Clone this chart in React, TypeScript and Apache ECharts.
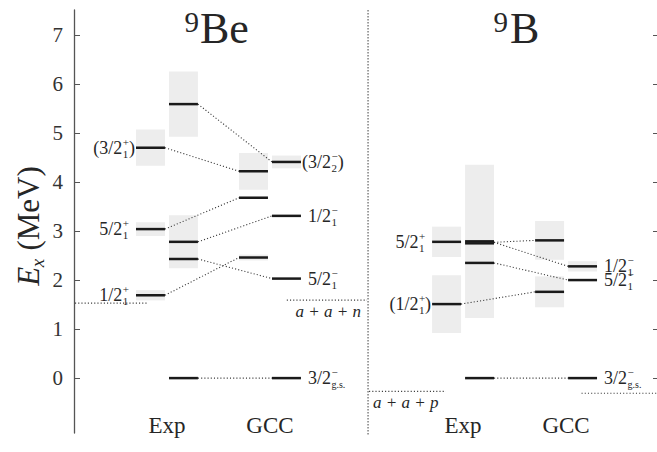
import React, { useEffect, useRef } from "react";
import * as echarts from "echarts";

// ---------------- data ----------------
const nuclei = ["Be", "B"];
const massNumber = "9";
const columnLabels = ["Exp", "GCC"];
const yTickValues = [0, 1, 2, 3, 4, 5, 6, 7];
const yRange = [-1.12, 7.51];

// [column, excitation energy (MeV), width Γ (MeV)]
type Level = [string, number, number];
const be9Levels: Level[] = [
  ["Exp1", 4.7, 0.74],
  ["Exp1", 3.04, 0.28],
  ["Exp1", 1.69, 0.21],
  ["Exp2", 5.59, 1.33],
  ["Exp2", 2.78, 1.08],
  ["Exp2", 2.43, 0],
  ["Exp2", 0, 0],
  ["GCC1", 4.22, 0.75],
  ["GCC1", 3.68, 0],
  ["GCC1", 2.46, 0.12],
  ["GCC2", 4.41, 0.26],
  ["GCC2", 3.31, 0],
  ["GCC2", 2.03, 0],
  ["GCC2", 0, 0],
];
const b9Levels: Level[] = [
  ["Exp1", 2.78, 0.62],
  ["Exp1", 1.51, 1.18],
  ["Exp2", 2.79, 3.13],
  ["Exp2", 2.75, 0],
  ["Exp2", 2.35, 0],
  ["Exp2", 0, 0],
  ["GCC1", 2.81, 0.79],
  ["GCC1", 1.76, 0.63],
  ["GCC2", 2.28, 0.21],
  ["GCC2", 2.0, 0],
  ["GCC2", 0, 0],
];

// [from column, E, to column, E]
type Link = [string, number, string, number];
const be9Links: Link[] = [
  ["Exp1", 4.7, "GCC1", 4.22],
  ["Exp2", 5.59, "GCC2", 4.41],
  ["Exp1", 3.04, "GCC1", 3.68],
  ["Exp2", 2.78, "GCC2", 3.31],
  ["Exp2", 2.43, "GCC2", 2.03],
  ["Exp1", 1.69, "GCC1", 2.46],
  ["Exp2", 0, "GCC2", 0],
];
const b9Links: Link[] = [
  ["Exp2", 2.77, "GCC1", 2.81],
  ["Exp2", 2.77, "GCC2", 2.28],
  ["Exp2", 2.35, "GCC2", 2.0],
  ["Exp1", 1.51, "GCC1", 1.76],
  ["Exp2", 0, "GCC2", 0],
];

type Label = { col: string; side: "left" | "right"; e: number; main: string; sup: string; sub: string; close?: string };
const be9Labels: Label[] = [
  { col: "Exp1", side: "left", e: 4.7, main: "(3/2", sup: "+", sub: "1", close: ")" },
  { col: "Exp1", side: "left", e: 3.04, main: "5/2", sup: "+", sub: "1" },
  { col: "Exp1", side: "left", e: 1.69, main: "1/2", sup: "+", sub: "1" },
  { col: "GCC2", side: "right", e: 4.41, main: "(3/2", sup: "\u2212", sub: "2", close: ")" },
  { col: "GCC2", side: "right", e: 3.31, main: "1/2", sup: "\u2212", sub: "1" },
  { col: "GCC2", side: "right", e: 2.03, main: "5/2", sup: "\u2212", sub: "1" },
  { col: "GCC2", side: "right", e: 0, main: "3/2", sup: "\u2212", sub: "g.s." },
];
const b9Labels: Label[] = [
  { col: "Exp1", side: "left", e: 2.78, main: "5/2", sup: "+", sub: "1" },
  { col: "Exp1", side: "left", e: 1.51, main: "(1/2", sup: "+", sub: "1", close: ")" },
  { col: "GCC2", side: "right", e: 2.28, main: "1/2", sup: "\u2212", sub: "1" },
  { col: "GCC2", side: "right", e: 2.0, main: "5/2", sup: "\u2212", sub: "1" },
  { col: "GCC2", side: "right", e: 0, main: "3/2", sup: "\u2212", sub: "g.s." },
];

// thresholds: [energy of left segment, energy of right segment]
const be9Threshold = [1.53, 1.59];
const b9Threshold = [-0.27, -0.31];
const thresholdNames = ["a + a + n", "a + a + p"];

// ---------------- layout ----------------
const X_MAX = 17.15;
const HALF = 0.426;
const colPos: Record<string, Record<string, number>> = {
  Be: { Exp1: 2.25, Exp2: 3.22, GCC1: 5.28, GCC2: 6.25 },
  B: { Exp1: 10.96, Exp2: 11.93, GCC1: 13.99, GCC2: 14.96 },
};
const dividerX = 8.65;
const thresholdSpans: Record<string, number[][]> = {
  Be: [[0.03, 2.18], [6.26, 8.62]],
  B: [[8.68, 10.94], [14.93, X_MAX]],
};

const SERIF = "'Liberation Serif', 'DejaVu Serif', serif";
const INK = "#1a1a1a";
const TXT = "#262626";
const MAIN = 18;
const SCRIPT = 11;

let measureCtx: CanvasRenderingContext2D | null = null;
function textWidth(t: string, size: number, italic = false) {
  if (!measureCtx) measureCtx = document.createElement("canvas").getContext("2d");
  if (!measureCtx) return t.length * size * 0.5;
  measureCtx.font = `${italic ? "italic " : ""}${size}px ${SERIF}`;
  return measureCtx.measureText(t).width;
}
function txt(text: string, x: number, y: number, size: number, align = "left", italic = false, fill = TXT) {
  return {
    type: "text",
    style: {
      text, x, y,
      font: `${italic ? "italic " : ""}${size}px ${SERIF}`,
      fill,
      textAlign: align, align,
      textVerticalAlign: "middle", verticalAlign: "middle",
    },
  };
}

const levelSets: Record<string, Level[]> = { Be: be9Levels, B: b9Levels };
const linkSets: Record<string, Link[]> = { Be: be9Links, B: b9Links };
const labelSets: Record<string, Label[]> = { Be: be9Labels, B: b9Labels };
const thresholdSets: Record<string, number[]> = { Be: be9Threshold, B: b9Threshold };

const bandData: number[][] = [];
const levelData: number[][] = [];
const linkData: number[][] = [];
const labelData: number[][] = [];
const labelList: Label[] = [];
const thresholdData: number[][] = [];
const colLabelData: number[][] = [];
const colLabelText: string[] = [];
nuclei.forEach((n) => {
  levelSets[n].forEach(([c, e, g]) => {
    const x = colPos[n][c];
    if (g > 0) bandData.push([x, e, g]);
    levelData.push([x, e]);
  });
  linkSets[n].forEach(([c1, e1, c2, e2]) => {
    linkData.push([colPos[n][c1] + HALF, e1, colPos[n][c2] - HALF, e2]);
  });
  labelSets[n].forEach((l) => {
    const x = colPos[n][l.col] + (l.side === "left" ? -HALF : HALF);
    labelData.push([x, l.e]);
    labelList.push(l);
  });
  thresholdSets[n].forEach((e, i) => {
    const [a, b] = thresholdSpans[n][i];
    thresholdData.push([a, e, b]);
  });
  columnLabels.forEach((c) => {
    colLabelData.push([(colPos[n][c + "1"] + colPos[n][c + "2"]) / 2, 0]);
    colLabelText.push(c);
  });
});

const dotted = { stroke: "#3a3a3a", lineWidth: 1.1, lineDash: [1.1, 2.1] };

export default function App() {
  const ref = useRef<HTMLDivElement>(null);
  useEffect(() => {
    document.body.style.margin = "0";
    if (!ref.current) return;
    const chart = echarts.init(ref.current, undefined, { renderer: "svg" });

    // y-axis title pieces
    const wE = textWidth("E", 31, true);
    const wx = textWidth("x", 19, true);
    const wRest = textWidth(" (MeV)", 31);
    const W = wE + wx + wRest;
    const x0 = -W / 2;

    chart.setOption({
      animation: false,
      backgroundColor: "#fff",
      grid: { left: 74, right: 0, top: 10, bottom: 19 },
      xAxis: { type: "value", min: 0, max: X_MAX, show: false },
      yAxis: [
        {
          type: "value", min: yRange[0], max: yRange[1],
          axisLine: { show: true, lineStyle: { color: "#555", width: 1.3 } },
          axisTick: { show: true, inside: true, length: 6, customValues: yTickValues, lineStyle: { color: "#555" } },
          axisLabel: { customValues: yTickValues, fontSize: 21, fontFamily: SERIF, color: "#333", margin: 11 },
          splitLine: { show: false },
        },
        {
          type: "value", position: "right", min: yRange[0], max: yRange[1],
          axisLine: { show: false },
          axisTick: { show: true, inside: true, length: 4, customValues: yTickValues, lineStyle: { color: "#555" } },
          axisLabel: { show: false },
          splitLine: { show: false },
        },
      ],
      graphic: [
        {
          type: "group", x: 28, y: 226, rotation: Math.PI / 2,
          children: [
            txt("E", x0, 0, 31, "left", true),
            txt("x", x0 + wE - 0.5, 9, 19, "left", true),
            txt(" (MeV)", x0 + wE + wx, 0, 31, "left"),
          ],
        },
        txt(massNumber, 199, 21.5, 29, "right"),
        txt(nuclei[0], 200, 28, 44, "left"),
        txt(massNumber, 508, 21.5, 29, "right"),
        txt(nuclei[1], 510, 28, 44, "left"),
      ],
      series: [
        {
          type: "custom", z: 1, silent: true, data: bandData,
          renderItem: (_p: any, api: any) => {
            const x = api.value(0), e = api.value(1), g = api.value(2);
            const a = api.coord([x - HALF, e + g / 2]);
            const b = api.coord([x + HALF, e - g / 2]);
            return { type: "rect", shape: { x: a[0], y: a[1], width: b[0] - a[0], height: b[1] - a[1] }, style: { fill: "#ededed" } };
          },
        },
        {
          type: "custom", z: 2, silent: true, data: [[dividerX, 0]],
          renderItem: (p: any, api: any) => {
            const px = api.coord([api.value(0), 0])[0];
            const cs = p.coordSys;
            return { type: "line", shape: { x1: px, y1: cs.y, x2: px, y2: cs.y + cs.height + 2 }, style: { stroke: "#777", lineWidth: 1.4, lineDash: [1.6, 1.4] } };
          },
        },
        {
          type: "custom", z: 2, silent: true, data: thresholdData,
          renderItem: (_p: any, api: any) => {
            const a = api.coord([api.value(0), api.value(1)]);
            const b = api.coord([api.value(2), api.value(1)]);
            return { type: "line", shape: { x1: a[0], y1: a[1], x2: b[0], y2: b[1] }, style: dotted };
          },
        },
        {
          type: "custom", z: 3, silent: true, data: linkData,
          renderItem: (_p: any, api: any) => {
            const a = api.coord([api.value(0), api.value(1)]);
            const b = api.coord([api.value(2), api.value(3)]);
            return { type: "line", shape: { x1: a[0], y1: a[1], x2: b[0], y2: b[1] }, style: dotted };
          },
        },
        {
          type: "custom", z: 4, silent: true, data: levelData,
          renderItem: (_p: any, api: any) => {
            const x = api.value(0), e = api.value(1);
            const a = api.coord([x - HALF, e]);
            const b = api.coord([x + HALF, e]);
            return { type: "line", shape: { x1: a[0], y1: a[1], x2: b[0], y2: b[1] }, style: { stroke: INK, lineWidth: 2.5 } };
          },
        },
        {
          type: "custom", z: 5, silent: true, data: labelData,
          renderItem: (p: any, api: any) => {
            const l = labelList[p.dataIndex];
            const [px, py] = api.coord([api.value(0), api.value(1)]);
            const subSize = l.sub.length > 1 ? SCRIPT - 1 : SCRIPT;
            const wMain = textWidth(l.main, MAIN);
            const wScript = Math.max(textWidth(l.sup, SCRIPT), textWidth(l.sub, subSize));
            const wClose = l.close ? textWidth(l.close, MAIN) : 0;
            const gap = l.main.startsWith("(") ? 1 : 1 + textWidth("(", MAIN);
            const total = wMain + 0.5 + wScript + wClose;
            const sx = l.side === "left" ? px - gap - total : px + gap;
            const children: any[] = [
              txt(l.main, sx, py, MAIN),
              txt(l.sup, sx + wMain + 0.5, py - 6, SCRIPT),
              txt(l.sub, sx + wMain + 0.5, py + 6, subSize),
            ];
            if (l.close) children.push(txt(l.close, sx + wMain + 0.5 + wScript, py, MAIN));
            return { type: "group", children };
          },
        },
        {
          type: "custom", z: 5, silent: true, data: thresholdData,
          renderItem: (p: any, api: any) => {
            const i = p.dataIndex;
            if (i === 1) {
              const b = api.coord([api.value(2), api.value(1)]);
              return txt(thresholdNames[0], b[0] - 6, b[1] + 11, 17, "right", true);
            }
            if (i === 2) {
              const a = api.coord([api.value(0), api.value(1)]);
              return txt(thresholdNames[1], a[0] + 4, a[1] + 11, 17, "left", true);
            }
            return { type: "group", children: [] };
          },
        },
        {
          type: "custom", z: 5, silent: true, data: colLabelData,
          renderItem: (p: any, api: any) => {
            const px = api.coord([api.value(0), 0])[0];
            return txt(colLabelText[p.dataIndex], px, 425, 23, "center");
          },
        },
      ],
    });
    return () => chart.dispose();
  }, []);
  return <div ref={ref} style={{ width: 657, height: 452 }} />;
}
